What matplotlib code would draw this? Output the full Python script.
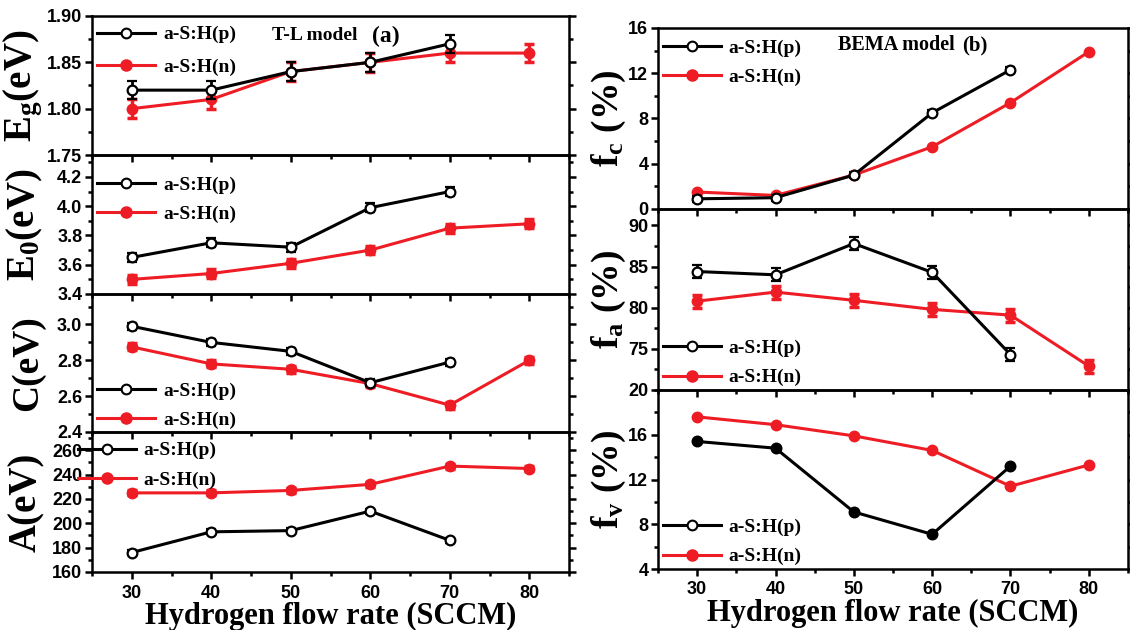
import matplotlib
matplotlib.use("Agg")
import matplotlib.pyplot as plt
from matplotlib.lines import Line2D
from matplotlib.ticker import MultipleLocator, AutoMinorLocator

plt.rcParams["mathtext.fontset"] = "custom"
plt.rcParams["mathtext.rm"] = "Liberation Serif:bold"
plt.rcParams["mathtext.it"] = "Liberation Serif:bold"
plt.rcParams["mathtext.bf"] = "Liberation Serif:bold"

# ---------------- data ----------------
x_p = [30, 40, 50, 60, 70]
x_n = [30, 40, 50, 60, 70, 80]

eg_p = [1.82, 1.82, 1.84, 1.85, 1.87]
eg_n = [1.80, 1.81, 1.84, 1.85, 1.86, 1.86]
eg_err = 0.01

e0_p = [3.65, 3.75, 3.72, 3.99, 4.10]
e0_n = [3.50, 3.54, 3.61, 3.70, 3.85, 3.88]
e0_err = 0.03

c_p = [2.99, 2.90, 2.85, 2.675, 2.79]
c_n = [2.875, 2.78, 2.75, 2.67, 2.55, 2.80]
c_err = 0.02

a_p = [176, 193, 194, 210, 186]
a_n = [225, 225, 227, 232, 247, 245]
a_err = 2

fc_p = [0.9, 1.0, 3.0, 8.5, 12.3]
fc_n = [1.5, 1.2, 3.0, 5.5, 9.4, 13.9]
fc_err = 0.25

fa_p = [84.4, 84.0, 87.8, 84.3, 74.3]
fa_n = [80.8, 81.9, 80.9, 79.8, 79.1, 72.9]
fa_err = 0.8

fv_p = [15.4, 14.8, 9.1, 7.1, 13.2]
fv_n = [17.6, 16.9, 15.9, 14.6, 11.4, 13.3]

label_p = "a-S:H(p)"
label_n = "a-S:H(n)"
xlabel = "Hydrogen flow rate (SCCM)"
xticks = [30, 40, 50, 60, 70, 80]

# ---------------- style ----------------
RED = "#ee1c24"
SERIF = "Liberation Serif"
SANS = "Liberation Sans"
W, H = 1130, 630

fig = plt.figure(figsize=(W / 100, H / 100), dpi=100)
fig.patch.set_facecolor("white")


def px_axes(x0, x1, y0, y1):
    return fig.add_axes([x0 / W, 1 - y1 / H, (x1 - x0) / W, (y1 - y0) / H])


def style(ax, ylim, yticks, ylabels=None, bottom_labels=False):
    ax.set_xlim(25, 85)
    ax.set_ylim(*ylim)
    ax.set_xticks(xticks)
    ax.xaxis.set_minor_locator(MultipleLocator(5))
    ax.set_yticks(yticks)
    if ylabels is not None:
        ax.set_yticklabels(ylabels)
    ax.yaxis.set_minor_locator(AutoMinorLocator(2))
    ax.tick_params(axis="both", which="both", direction="out", width=1.8,
                   labelsize=13)
    ax.tick_params(axis="both", which="major", length=5)
    ax.tick_params(axis="both", which="minor", length=3)
    ax.tick_params(axis="y", which="both", left=True, right=True,
                   labelright=False, pad=2)
    ax.tick_params(axis="x", which="both", top=False, bottom=True,
                   labelbottom=bottom_labels, pad=4)
    for lab in ax.get_xticklabels() + ax.get_yticklabels():
        lab.set_fontfamily(SANS)
        lab.set_fontweight("bold")
    for sp in ax.spines.values():
        sp.set_linewidth(1.8)
    ax.set_facecolor("none")


def plot_pair(ax, yp, yn, err_p=None, err_n=None, p_fill="white"):
    ax.errorbar(x_p, yp, yerr=err_p, color="black", lw=2.2, marker="o", ms=7,
                mfc=p_fill, mec="black", mew=1.6, elinewidth=2, capsize=3.5,
                capthick=2, zorder=3)
    ax.errorbar(x_n, yn, yerr=err_n, color=RED, lw=2.2, marker="o", ms=7.5,
                mfc=RED, mec=RED, elinewidth=2.5, capsize=3.5, capthick=2.5,
                zorder=2)


handles = [
    Line2D([], [], color="black", lw=2.2, marker="o", ms=7, mfc="white",
           mec="black", mew=1.5),
    Line2D([], [], color=RED, lw=2.2, marker="o", ms=8, mfc=RED, mec=RED),
]


def legend(ax, loc, anchor, spacing=0.6):
    ax.legend(handles, [label_p, label_n], loc=loc, bbox_to_anchor=anchor,
              frameon=False, handlelength=3.0, handletextpad=0.4,
              labelspacing=spacing, borderaxespad=0.0, borderpad=0.0,
              prop={"family": SERIF, "weight": "bold", "size": 14})


# ---------------- left column (a) ----------------
LX0, LX1 = 92, 569
ax1 = px_axes(LX0, LX1, 16, 155)
ax2 = px_axes(LX0, LX1, 155, 294)
ax3 = px_axes(LX0, LX1, 294, 432)
ax4 = px_axes(LX0, LX1, 432, 572)

plot_pair(ax1, eg_p, eg_n, eg_err, eg_err)
style(ax1, (1.75, 1.90), [1.75, 1.80, 1.85, 1.90],
      ["1.75", "1.80", "1.85", "1.90"])
legend(ax1, "upper left", (0.01, 0.93), spacing=0.75)

plot_pair(ax2, e0_p, e0_n, e0_err, e0_err)
style(ax2, (3.4, 4.35), [3.4, 3.6, 3.8, 4.0, 4.2],
      ["3.4", "3.6", "3.8", "4.0", "4.2"])
legend(ax2, "upper left", (0.01, 0.85))

plot_pair(ax3, c_p, c_n, c_err, c_err)
style(ax3, (2.4, 3.17), [2.4, 2.6, 2.8, 3.0], ["2.4", "2.6", "2.8", "3.0"])
legend(ax3, "lower left", (0.01, 0.02))

plot_pair(ax4, a_p, a_n, a_err, a_err)
style(ax4, (160, 275), [160, 180, 200, 220, 240, 260], bottom_labels=True)
legend(ax4, "upper left", (-0.03, 0.93))
ax4.set_xlabel(xlabel, family=SERIF, weight="bold", fontsize=22, labelpad=0)

fig.text(272 / W, 1 - 35 / H, "T-L model", family=SERIF, weight="bold",
         fontsize=14, va="center", ha="left")
fig.text(372 / W, 1 - 36 / H, "(a)", family=SERIF, weight="bold",
         fontsize=17, va="center", ha="left")

# ---------------- right column (b) ----------------
RX0, RX1 = 658, 1128
bx1 = px_axes(RX0, RX1, 28, 209)
bx2 = px_axes(RX0, RX1, 209, 390)
bx3 = px_axes(RX0, RX1, 390, 569)

plot_pair(bx1, fc_p, fc_n, fc_err, None)
style(bx1, (0, 16), [0, 4, 8, 12, 16])
legend(bx1, "upper left", (0.01, 0.94))

plot_pair(bx2, fa_p, fa_n, fa_err, fa_err)
style(bx2, (70, 92), [75, 80, 85, 90])
legend(bx2, "lower left", (0.01, 0.02))

plot_pair(bx3, fv_p, fv_n, None, None, p_fill="black")
style(bx3, (4, 20), [4, 8, 12, 16, 20], bottom_labels=True)
legend(bx3, "lower left", (0.01, 0.02))
bx3.set_xlabel(xlabel, family=SERIF, weight="bold", fontsize=22, labelpad=0)

fig.text(838 / W, 1 - 45 / H, "BEMA model", family=SERIF, weight="bold",
         fontsize=14.5, va="center", ha="left")
fig.text(962 / W, 1 - 45 / H, "(b)", family=SERIF, weight="bold",
         fontsize=15, va="center", ha="left")

# y labels
for ax, txt, size in [(ax1, r"E$_\mathregular{g}$(eV)", 28),
                      (ax2, r"E$_\mathregular{0}$(eV)", 28),
                      (ax3, "C(eV)", 27),
                      (ax4, "A(eV)", 28)]:
    ax.set_ylabel(txt, family=SERIF, weight="bold", fontsize=size)
    ax.yaxis.set_label_coords(-0.098, 0.5)

for ax, sub in [(bx1, "c"), (bx2, "a"), (bx3, "v")]:
    ax.set_ylabel(r"f$_\mathregular{%s}$ (%%)" % sub, family=SERIF,
                  weight="bold", fontsize=27)
    ax.yaxis.set_label_coords(-0.064, 0.5)

fig.savefig("out.png", dpi=100, facecolor="white")
